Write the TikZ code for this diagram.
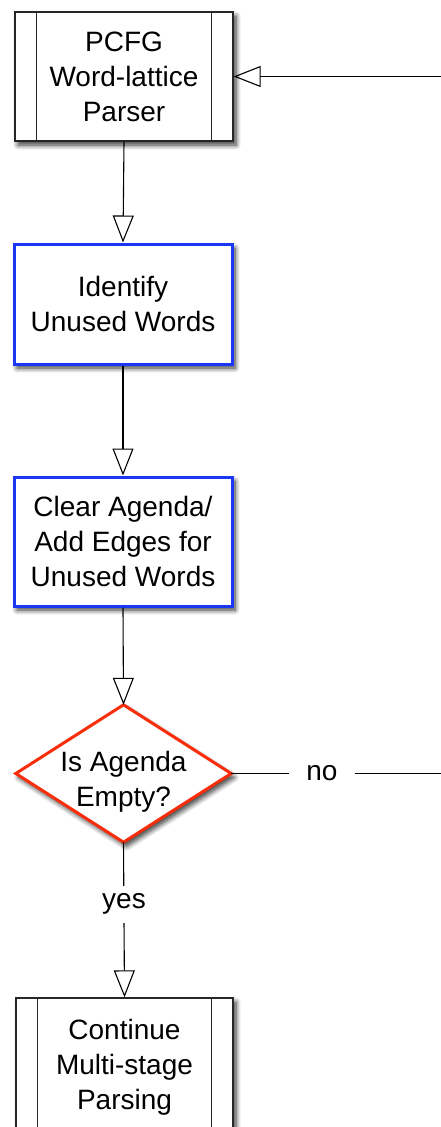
\documentclass[tikz,border=0pt]{standalone}
\usepackage{fontspec}
\setmainfont{Liberation Sans}
\usetikzlibrary{arrows.meta,shadows.blur}
\newcommand\chartfont{\fontsize{28}{35}\selectfont}
\definecolor{procblue}{RGB}{25,55,245}
\definecolor{decred}{RGB}{250,45,10}
\tikzset{
  shadowed/.style={blur shadow={shadow xshift=3pt, shadow yshift=-4pt,
      shadow blur radius=5pt, shadow blur steps=8, shadow opacity=80}},
  basebox/.style={rectangle, fill=white, inner sep=0pt, align=center,
      font=\chartfont, text depth=0pt, shadowed,
      execute at begin node={\vspace*{6pt}}},
  subproc/.style={basebox, draw=black!85, line width=1.3pt,
      minimum width=218pt, minimum height=129pt},
  procbox/.style={basebox, draw=procblue, line width=3pt,
      minimum width=218pt},
  flow/.style={line width=1.1pt, draw=black,
      -{Triangle[open, length=27pt, width=21pt, line width=1.1pt]}},
  tag/.style={fill=white, inner sep=0pt, minimum width=66pt,
      minimum height=37pt, font=\chartfont},
}
\begin{document}
\begin{tikzpicture}[x=1pt, y=-1pt]
\useasboundingbox (0,0) rectangle (440,1127);

% subprocess: parser
\node[subproc] (pcfg) at (124,76.5) {PCFG\\Word-lattice\\Parser};
\draw[line width=1.3pt, black!85] ([xshift=22pt]pcfg.north west) -- ([xshift=22pt]pcfg.south west);
\draw[line width=1.3pt, black!85] ([xshift=-22pt]pcfg.north east) -- ([xshift=-22pt]pcfg.south east);

% processing steps
\node[procbox, minimum height=120pt] (ident) at (123,304) {Identify\\Unused Words};
\node[procbox, minimum height=129pt] (clear) at (123,541.5) {Clear Agenda/\\Add Edges for\\Unused Words};

% decision
\node[rectangle, minimum width=215pt, minimum height=137pt, inner sep=0pt] (dia) at (123.5,773.5) {};
\draw[decred, line width=3pt, fill=white, line join=miter, shadowed]
  (dia.north) -- (dia.east) -- (dia.south) -- (dia.west) -- cycle;
\node[align=center, font=\chartfont, text depth=0pt] (diatext) at ([yshift=-5pt]dia.center) {Is Agenda\\Empty?};

% subprocess: continuation
\node[subproc, minimum width=217pt, minimum height=132pt] (cont) at (124.5,1064) {Continue\\Multi-stage\\Parsing};
\draw[line width=1.3pt, black!85] ([xshift=22pt]cont.north west) -- ([xshift=22pt]cont.south west);
\draw[line width=1.3pt, black!85] ([xshift=-22pt]cont.north east) -- ([xshift=-22pt]cont.south east);

% connectors
\draw[flow] (pcfg.south) -- (ident.north);
\draw[flow] (ident.south) -- (clear.north);
\draw[flow] (clear.south) -- (dia.north);
\draw[flow] (dia.south) -- (cont.north);
\node[tag] (yes) at (124,904) {yes};

\coordinate (loop) at (470,773.5);
\draw[flow] (dia.east) -- (loop) |- (pcfg.east);
\node[tag] (no) at (322,773.5) {no};
\end{tikzpicture}
\end{document}
